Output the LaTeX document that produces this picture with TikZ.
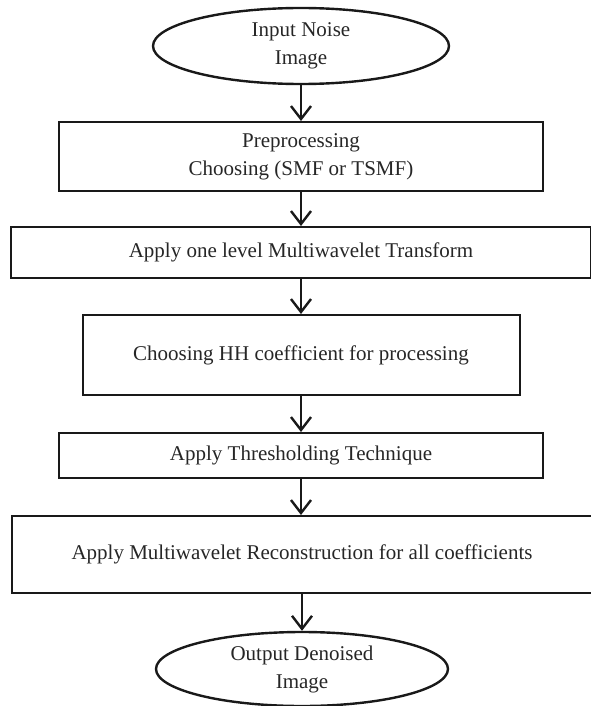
\documentclass[tikz,border=0pt]{standalone}
\usepackage{fontspec}
\setmainfont{Liberation Serif}
\usetikzlibrary{shapes.geometric, arrows.meta}

\begin{document}
\begin{tikzpicture}
        [x=1pt,y=-1pt,every node/.style={draw,line width=2pt,black!90,text=black!85,inner sep=0,font=\fontsize{21}{28}\selectfont,align=center},
         stepbox/.style={shape=rectangle},
         endbox/.style={shape=ellipse,line width=2.4pt},
         flow/.style={line width=2.6pt,black!90,-{Straight Barb[length=13pt,width=20pt,line width=2.4pt]}}]

        \useasboundingbox (0,0) rectangle (590,706);

        \node[endbox,minimum width=296pt,minimum height=76pt] (in) at (301,46) {Input Noise\\Image};
        \node[stepbox,minimum width=484pt,minimum height=69pt] (pre) at (301,156.5) {Preprocessing\\Choosing (SMF or TSMF)};
        \node[stepbox,minimum width=580pt,minimum height=51pt] (mwt) at (301,252.5) {Apply one level Multiwavelet Transform};
        \node[stepbox,minimum width=437pt,minimum height=80pt] (hh) at (301,355) {Choosing HH coefficient for processing};
        \node[stepbox,minimum width=484pt,minimum height=45pt] (thr) at (301,455.5) {Apply Thresholding Technique};
        \node[stepbox,minimum width=580pt,minimum height=77pt] (rec) at (302,554.5) {Apply Multiwavelet Reconstruction for all coefficients};
        \node[endbox,minimum width=292pt,minimum height=74pt] (out) at (302,669) {Output Denoised\\Image};

        \draw[flow] (in) -- (pre);
        \draw[flow] (pre) -- (mwt);
        \draw[flow] (mwt) -- (hh);
        \draw[flow] (hh) -- (thr);
        \draw[flow] (thr.south) -- (thr.south |- rec.north);
        \draw[flow] (rec.south -| out.north) -- (out);
      \end{tikzpicture}
\end{document}
